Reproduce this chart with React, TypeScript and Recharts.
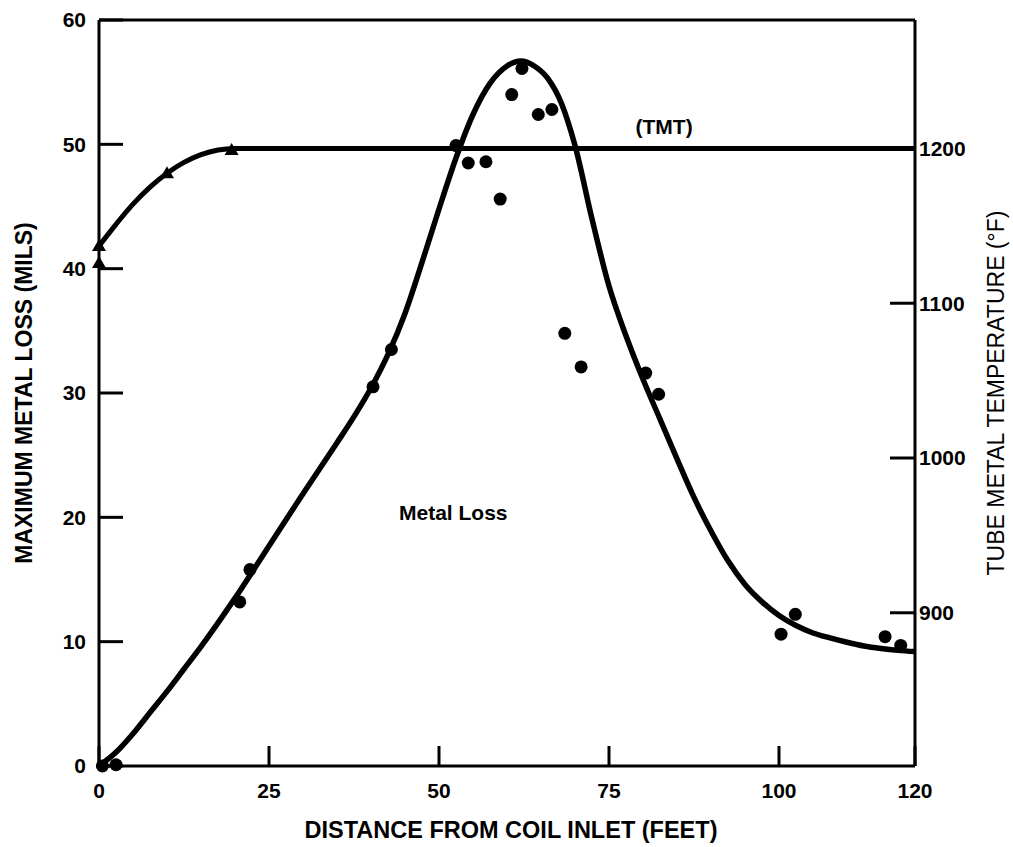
import React from "react"
import { ComposedChart, Line, Scatter, XAxis, YAxis, ReferenceDot } from "recharts"

// fitted metal loss curve: distance from coil inlet (ft) -> max metal loss (mils)
const lossCurveFeet = [
  0, 2.5, 5, 7.5, 10, 12.5, 15, 20, 25, 30, 35, 37.5, 40, 42.5, 45, 47.5, 50, 52.5, 55, 57.5, 60, 62,
  64, 66, 68, 70, 72.5, 75, 77.5, 80, 82.5, 85, 87.5, 90, 92.5, 95, 97.5, 100, 102.5, 105, 107.5, 110,
  112.5, 115, 117.5, 120,
]
const lossCurveMils = [
  0, 1.1, 2.6, 4.3, 6.0, 7.8, 9.6, 13.5, 17.7, 21.9, 26.0, 28.1, 30.4, 33.1, 36.4, 40.5, 44.8, 48.9,
  52.4, 54.9, 56.3, 56.7, 56.3, 55.3, 53.3, 49.9, 44.0, 38.6, 34.6, 31.1, 27.9, 24.7, 21.6, 18.9,
  16.5, 14.6, 13.2, 12.1, 11.3, 10.7, 10.3, 9.95, 9.65, 9.45, 9.3, 9.2,
]

// measured metal loss
const lossPointFeet = [
  0.5, 2.5, 20.7, 22.2, 40.3, 43.0, 52.5, 54.3, 56.9, 59.0, 60.7, 62.2, 64.6, 66.6, 68.5, 70.9, 80.4,
  82.3, 100.3, 102.4, 115.6, 117.9,
]
const lossPointMils = [
  0, 0.1, 13.2, 15.8, 30.5, 33.5, 49.9, 48.5, 48.6, 45.6, 54.0, 56.1, 52.4, 52.8, 34.8, 32.1, 31.6,
  29.9, 10.6, 12.2, 10.4, 9.7,
]

// tube metal temperature (TMT), right axis
const tmtCurveFeet = [0, 2.5, 5, 7.5, 10, 12.5, 15, 17.5, 20, 25, 30, 60, 90, 120]
const tmtCurveDegF = [1137, 1151, 1164, 1175, 1184, 1191, 1196, 1199, 1200, 1200, 1200, 1200, 1200, 1200]
const tmtPointFeet = [0, 0, 10, 19.5]
const tmtPointDegF = [1137, 1126, 1184, 1199]

const distanceTicks = [0, 25, 50, 75, 100, 120]
const topTicks = [25, 50, 75, 100]
const lossTicks = [0, 10, 20, 30, 40, 50, 60]
const tempTicks = [900, 1000, 1100, 1200]

const pairs = (xs: number[], ys: number[]) => xs.map((x, i) => ({ x, y: ys[i] }))

const FONT = '"Liberation Sans", Arial, sans-serif'
const tickStyle = { fill: "#000", fontSize: 21, fontWeight: 700, fontFamily: FONT }
const axisStroke = { stroke: "#000", strokeWidth: 3 }

// recharts passes its own `angle` to label content, so the rotation goes in `rot`
function AxisTitle(props: any) {
  const { viewBox, text, shiftX = 0, shiftY = 0, rot = 0, size = 23, weight = 700 } = props
  if (!viewBox) return null
  const cx = viewBox.x + viewBox.width / 2 + shiftX
  const cy = viewBox.y + viewBox.height / 2 + shiftY
  return (
    <text
      x={cx}
      y={cy}
      transform={rot ? `rotate(${rot} ${cx} ${cy})` : undefined}
      textAnchor="middle"
      dominantBaseline="central"
      fontFamily={FONT}
      fontSize={size}
      fontWeight={weight}
      fill="#000"
    >
      {text}
    </text>
  )
}

const DotShape = (p: any) => <circle cx={p.cx} cy={p.cy} r={6.5} fill="#000" />
const TriShape = (p: any) => (
  <polygon
    points={`${p.cx},${p.cy - 7} ${p.cx - 7},${p.cy + 5} ${p.cx + 7},${p.cy + 5}`}
    fill="#000"
  />
)

export default function App() {
  const lossCurve = pairs(lossCurveFeet, lossCurveMils)
  const lossPoints = pairs(lossPointFeet, lossPointMils)
  const tmtCurve = pairs(tmtCurveFeet, tmtCurveDegF)
  const tmtPoints = pairs(tmtPointFeet, tmtPointDegF)

  return (
    <div style={{ position: "absolute", left: 0, top: 0, background: "#fff" }}>
      <ComposedChart width={1013} height={847} margin={{ top: 10, right: 0, bottom: 0, left: 0 }}>
        <XAxis
          xAxisId="b"
          dataKey="x"
          type="number"
          domain={[0, 120]}
          ticks={distanceTicks}
          interval={0}
          height={81}
          tickSize={-20}
          tickMargin={37}
          tick={tickStyle}
          axisLine={axisStroke}
          tickLine={axisStroke}
          label={<AxisTitle text="DISTANCE FROM COIL INLET (FEET)" shiftX={4} shiftY={23} size={23.5} />}
        />
        <XAxis
          xAxisId="t"
          orientation="top"
          type="number"
          domain={[0, 120]}
          ticks={topTicks}
          interval={0}
          height={10}
          tickSize={-22}
          tick={false}
          axisLine={axisStroke}
          tickLine={axisStroke}
        />
        <YAxis
          yAxisId="l"
          dataKey="y"
          type="number"
          domain={[0, 60]}
          ticks={lossTicks}
          interval={0}
          width={99}
          tickSize={-24}
          tickMargin={37}
          tick={tickStyle}
          axisLine={axisStroke}
          tickLine={axisStroke}
          label={<AxisTitle text="MAXIMUM METAL LOSS (MILS)" shiftX={-26} rot={-90} />}
        />
        <YAxis
          yAxisId="r"
          orientation="right"
          dataKey="y"
          type="number"
          domain={[801, 1283]}
          ticks={tempTicks}
          interval={0}
          width={98}
          tickSize={-25}
          tickMargin={29}
          tick={tickStyle}
          axisLine={axisStroke}
          tickLine={axisStroke}
          label={<AxisTitle text="TUBE METAL TEMPERATURE (°F)" shiftX={32} rot={-90} weight={400} />}
        />

        <Line
          xAxisId="b"
          yAxisId="r"
          data={tmtCurve}
          dataKey="y"
          type="monotone"
          stroke="#000"
          strokeWidth={5}
          dot={false}
          activeDot={false}
          isAnimationActive={false}
        />
        <Line
          xAxisId="b"
          yAxisId="l"
          data={lossCurve}
          dataKey="y"
          type="monotone"
          stroke="#000"
          strokeWidth={5.5}
          dot={false}
          activeDot={false}
          isAnimationActive={false}
        />
        <Scatter
          xAxisId="b"
          yAxisId="l"
          data={lossPoints}
          shape={DotShape}
          isAnimationActive={false}
        />
        <Scatter
          xAxisId="b"
          yAxisId="r"
          data={tmtPoints}
          shape={TriShape}
          isAnimationActive={false}
        />

        <ReferenceDot
          xAxisId="b"
          yAxisId="l"
          x={83.1}
          y={51.4}
          r={0}
          stroke="none"
          label={{ value: "(TMT)", position: "center", fill: "#000", fontSize: 21, fontWeight: 700, fontFamily: FONT }}
        />
        <ReferenceDot
          xAxisId="b"
          yAxisId="l"
          x={52.1}
          y={20.4}
          r={0}
          stroke="none"
          label={{ value: "Metal Loss", position: "center", fill: "#000", fontSize: 21, fontWeight: 700, fontFamily: FONT }}
        />
      </ComposedChart>
    </div>
  )
}
